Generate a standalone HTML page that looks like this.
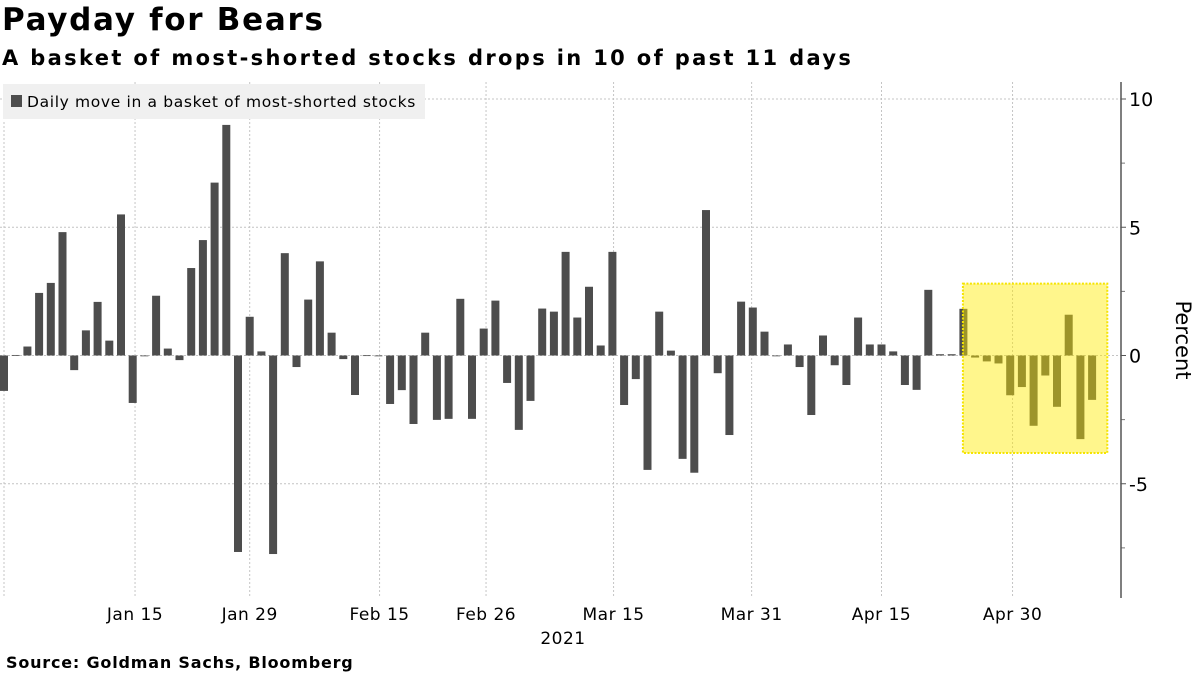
<!DOCTYPE html>
<html><head><meta charset="utf-8">
<style>
body{margin:0;width:1200px;height:675px;background:#fff;overflow:hidden;font-family:"DejaVu Sans","Liberation Sans",sans-serif;}
#title{position:absolute;left:2px;top:2px;font-size:31px;font-weight:bold;color:#000;letter-spacing:1.7px;}
#subtitle{position:absolute;left:2px;top:46px;font-size:21px;font-weight:bold;color:#000;letter-spacing:2.35px;}
#source{position:absolute;left:6px;top:653px;font-size:16px;font-weight:bold;color:#000;letter-spacing:0.8px;}
svg{position:absolute;left:0;top:0;}
</style></head><body>
<div id="title">Payday for Bears</div>
<div id="subtitle">A basket of most-shorted stocks drops in 10 of past 11 days</div>
<div id="source">Source: Goldman Sachs, Bloomberg</div>
<svg id="chart" width="1200" height="675"></svg>
<script>
const values = [-1.38,0.02,0.35,2.44,2.83,4.81,-0.57,0.98,2.09,0.58,5.5,-1.85,-0.02,2.33,0.27,-0.18,3.41,4.5,6.74,8.99,-7.66,1.51,0.16,-7.74,3.99,-0.45,2.18,3.67,0.89,-0.14,-1.54,0.01,-0.01,-1.89,-1.35,-2.67,0.89,-2.51,-2.47,2.21,-2.47,1.05,2.14,-1.07,-2.9,-1.77,1.83,1.71,4.04,1.48,2.68,0.39,4.04,-1.93,-0.92,-4.46,1.71,0.19,-4.03,-4.57,5.67,-0.69,-3.1,2.1,1.87,0.93,-0.02,0.43,-0.45,-2.32,0.78,-0.38,-1.15,1.48,0.43,0.43,0.16,-1.15,-1.34,2.56,0.05,0.05,1.82,-0.08,-0.23,-0.31,-1.55,-1.23,-2.74,-0.78,-2.0,1.59,-3.26,-1.73];
const yTicks = [10,5,0,-5];
const yMinorTicks = [7.5,2.5,-2.5,-7.5];
const xTickLabels = ["Jan 15","Jan 29","Feb 15","Feb 26","Mar 15","Mar 31","Apr 15","Apr 30"];
const xTickIndex = [11.2,21,32.1,41.2,52.1,63.9,75,86.2];
const highlightStart = 82.3, highlightEnd = 94.3, highlightTop = 2.8, highlightBottom = -3.8;

const NS="http://www.w3.org/2000/svg";
const svg=document.getElementById('chart');
const X0=4, STEP=11.7, Y0=355.5, PXU=25.65, AXX=1121, TOP=82, BOT=598;
const xs=i=>X0+i*STEP;
const ys=v=>Y0-v*PXU;
function mk(t,a){const e=document.createElementNS(NS,t);for(const k in a)e.setAttribute(k,a[k]);svg.appendChild(e);return e;}

yTicks.forEach(v=>{
  const g=mk('line',{x1:0,x2:AXX,y1:ys(v),y2:ys(v),stroke:'#c4c4c4','stroke-dasharray':'2,2'});
  
  
  const tk=mk('line',{x1:AXX,x2:AXX+5,y1:ys(v),y2:ys(v),stroke:'#555'});
  
  
  const t=mk('text',{x:AXX+8,y:ys(v)+7,'font-size':'19',fill:'#000','font-family':'DejaVu Sans, sans-serif'});
  t.textContent=v;
  
  
});
yMinorTicks.forEach(v=>{
  const tk=mk('line',{x1:AXX,x2:AXX+4,y1:ys(v),y2:ys(v),stroke:'#777'});
  
  
});
const lg=mk('line',{x1:4,x2:4,y1:TOP+40,y2:BOT,stroke:'#c4c4c4','stroke-dasharray':'2,2'});


xTickIndex.forEach((ix,k)=>{
  const x=xs(ix);
  const g=mk('line',{x1:x,x2:x,y1:TOP,y2:BOT,stroke:'#c4c4c4','stroke-dasharray':'2,2'});
  
  
  const t=mk('text',{x:x,y:620,'font-size':'17','text-anchor':'middle',fill:'#000','letter-spacing':'0.5','font-family':'DejaVu Sans, sans-serif'});
  t.textContent=xTickLabels[k];
  
  
});
const yr=mk('text',{x:563,y:644,'font-size':'17','text-anchor':'middle',fill:'#000','letter-spacing':'0.5','font-family':'DejaVu Sans, sans-serif'});
yr.textContent='2021';



values.forEach((v,i)=>{
  const h=Math.max(Math.abs(v)*PXU,0.8);
  const b=mk('rect',{x:xs(i)-4,y:v>=0?ys(v):Y0,width:8,height:h,fill:'#4d4d4d'});
  
  
});

const hx1=xs(highlightStart)-4, hx2=xs(highlightEnd);
const hb=mk('rect',{x:hx1,y:ys(highlightTop),width:hx2-hx1,height:ys(highlightBottom)-ys(highlightTop),fill:'#ffec00','fill-opacity':'0.45',stroke:'#f5e400','stroke-width':'2','stroke-dasharray':'2,1.5'});



const ax=mk('line',{x1:AXX,x2:AXX,y1:TOP,y2:BOT,stroke:'#555','stroke-width':'1.5'});


const yt=mk('text',{x:0,y:0,'font-size':'21','text-anchor':'middle',fill:'#000',transform:'translate(1176,340) rotate(90)','font-family':'DejaVu Sans, sans-serif'});
yt.textContent='Percent';



const lb=mk('rect',{x:3,y:84,width:422,height:35,fill:'#f0f0f0'});


const ls=mk('rect',{x:11,y:95,width:11,height:12,fill:'#4d4d4d'});


const lt=mk('text',{x:27,y:107,'font-size':'15.5',fill:'#000','letter-spacing':'0.65','font-family':'DejaVu Sans, sans-serif'});
lt.textContent='Daily move in a basket of most-shorted stocks';


</script>
</body></html>
